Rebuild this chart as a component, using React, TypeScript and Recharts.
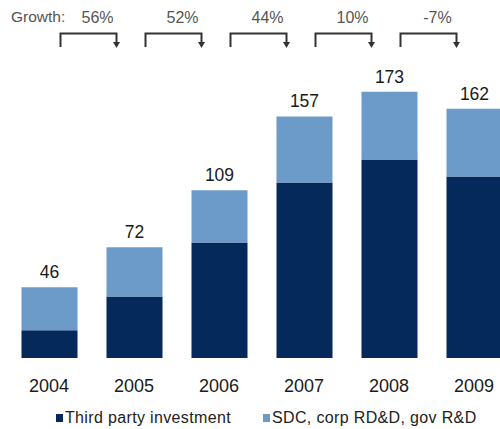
import React from 'react';
import { BarChart, Bar, XAxis, YAxis, LabelList } from 'recharts';

const years = ['2004', '2005', '2006', '2007', '2008', '2009'];
const thirdParty = [18, 40, 75, 114, 129, 118];
const sdcGov = [28, 32, 34, 43, 44, 44];
const growth = ['56%', '52%', '44%', '10%', '-7%'];

const DARK = '#06295b';
const LIGHT = '#6c9bca';
const FONT = '"Liberation Sans", Arial, sans-serif';

const data = years.map((year, i) => ({
  year,
  thirdParty: thirdParty[i],
  sdcGov: sdcGov[i],
}));

const totals = years.map((_, i) => thirdParty[i] + sdcGov[i]);

// total on top of each stack, plus growth bracket to the next year
const TopLabel = (props: any) => {
  const { x, y, width, index } = props;
  const cx = Number(x) + Number(width) / 2;
  const g = growth[index];
  return (
    <g>
      <text x={cx} y={Number(y) - 9} textAnchor="middle" fontSize={17.5} fontFamily={FONT} fill="#1a1a1a">
        {totals[index]}
      </text>
      {g !== undefined && (
        <g>
          <text x={cx + 48} y={23} textAnchor="middle" fontSize={16} fontFamily={FONT} fill="#555">
            {g}
          </text>
          <path
            d={`M${cx + 11} 47 V33.5 H${cx + 67} V43`}
            fill="none"
            stroke="#333"
            strokeWidth={2}
          />
          <path d={`M${cx + 63.5} 42 H${cx + 70.5} L${cx + 67} 48 Z`} fill="#333" />
        </g>
      )}
    </g>
  );
};

const YearTick = (props: any) => {
  const { x, y, payload } = props;
  return (
    <text x={x} y={Number(y) + 26} textAnchor="middle" fontSize={18} fontFamily={FONT} fill="#1a1a1a">
      {payload.value}
    </text>
  );
};

const legendItems = [
  { name: 'Third party investment', color: DARK, left: 56 },
  { name: 'SDC, corp RD&D, gov R&D', color: LIGHT, left: 263 },
];

export default function App() {
  return (
    <div
      style={{
        position: 'absolute',
        left: 0,
        top: 0,
        width: 500,
        height: 429,
        overflow: 'hidden',
        background: '#fff',
        fontFamily: FONT,
      }}
    >
      <div style={{ position: 'absolute', left: 11, top: 8, fontSize: 15.5, color: '#555' }}>Growth:</div>
      <BarChart
        width={520}
        height={429}
        data={data}
        margin={{ top: 50.3, right: 3.5, left: 6.5, bottom: 41 }}
      >
        <XAxis dataKey="year" axisLine={false} tickLine={false} height={30} tick={<YearTick />} interval={0} />
        <YAxis hide domain={[0, 200]} />
        <Bar dataKey="thirdParty" stackId="a" fill={DARK} barSize={56} isAnimationActive={false} />
        <Bar dataKey="sdcGov" stackId="a" fill={LIGHT} barSize={56} isAnimationActive={false}>
          <LabelList dataKey="sdcGov" content={<TopLabel />} />
        </Bar>
      </BarChart>
      {legendItems.map((item) => (
        <div
          key={item.name}
          style={{
            position: 'absolute',
            left: item.left,
            top: 409,
            display: 'flex',
            alignItems: 'center',
            fontSize: 16,
            letterSpacing: 0.35,
            color: '#222',
            lineHeight: '18px',
          }}
        >
          <span style={{ display: 'inline-block', width: 7, height: 8, background: item.color, marginRight: 2 }} />
          {item.name}
        </div>
      ))}
    </div>
  );
}
